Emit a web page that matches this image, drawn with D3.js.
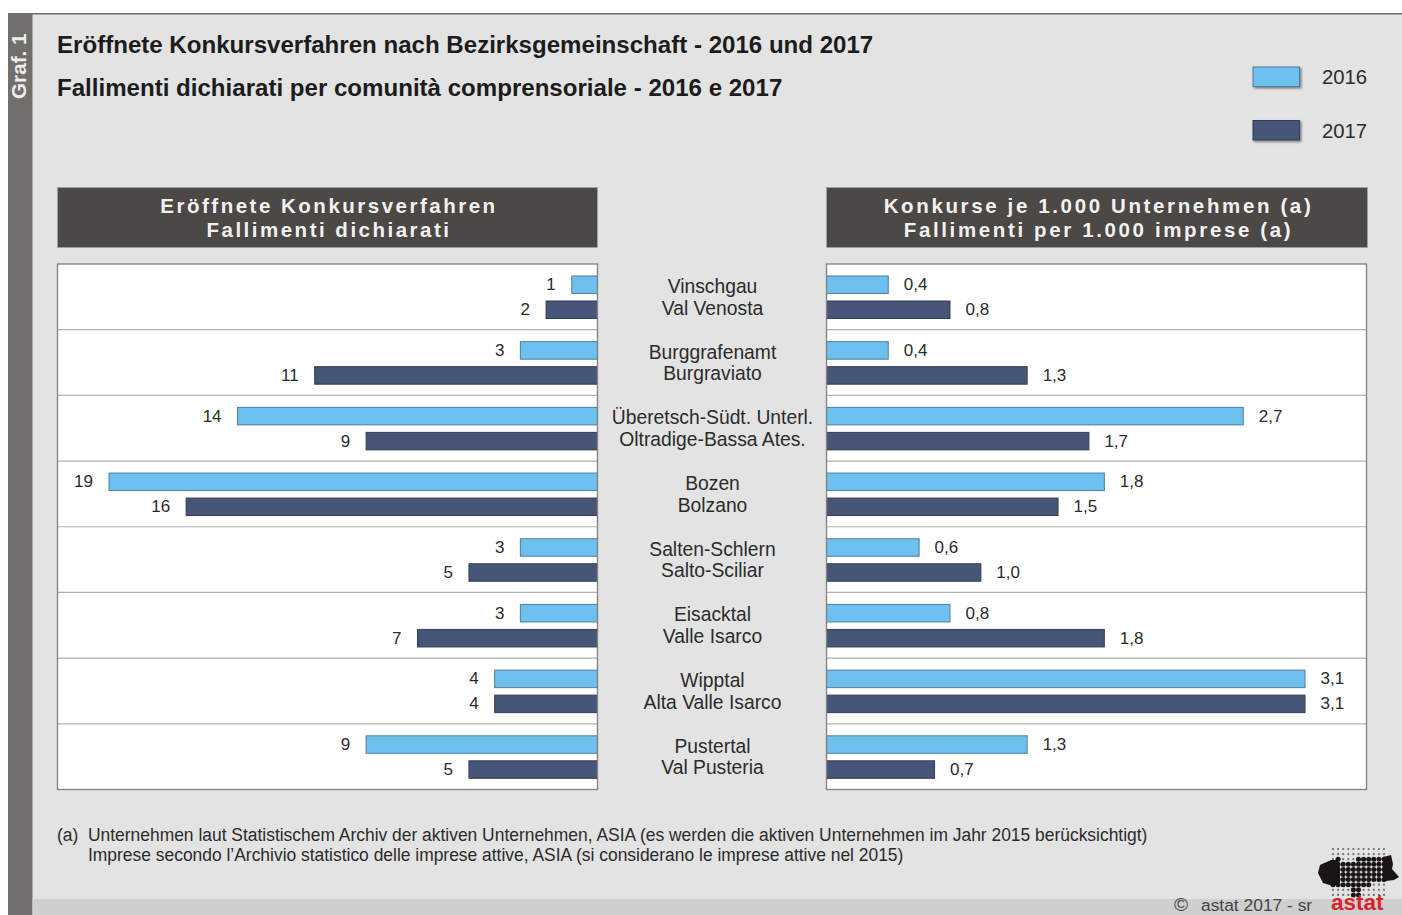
<!DOCTYPE html>
<meta charset="utf-8">
<style>
html, body { margin: 0; padding: 0; background: #fff; }
svg { display: block; }
text { font-family: "Liberation Sans", Arial, sans-serif; fill: #2b2b2b; }
.title { font-size: 24.08px; font-weight: bold; fill: #1c1c1c; }
.head { font-size: 20.5px; font-weight: bold; fill: #f2f2f2; text-anchor: middle; }
.val { font-size: 17px; }
.cat { font-size: 19.3px; text-anchor: middle; }
.note { font-size: 17.43px; }
</style>
<svg width="1402" height="915"></svg>
<script src="https://d3js.org/d3.v7.min.js"></script>
<script>

var catDe = ["Vinschgau", "Burggrafenamt", "Überetsch-Südt. Unterl.", "Bozen", "Salten-Schlern", "Eisacktal", "Wipptal", "Pustertal"];
var catIt = ["Val Venosta", "Burgraviato", "Oltradige-Bassa Ates.", "Bolzano", "Salto-Sciliar", "Valle Isarco", "Alta Valle Isarco", "Val Pusteria"];

var years = ["2016", "2017"];

// Eröffnete Konkursverfahren
var count2016 = [1, 3, 14, 19, 3, 3, 4, 9];
var count2017 = [2, 11, 9, 16, 5, 7, 4, 5];

// Konkurse je 1.000 Unternehmen
var rate2016 = [0.4, 0.4, 2.7, 1.8, 0.6, 0.8, 3.1, 1.3];
var rate2017 = [0.8, 1.3, 1.7, 1.5, 1.0, 1.8, 3.1, 0.7];

var colors = { "2016": "#6ec1ee", "2017": "#475578" };
var barStroke = { "2016": "#4d7f9c", "2017": "#333d58" };

var svg = d3.select("svg");

var defs = svg.append("defs");
var shadow = defs.append("filter").attr("id", "shadow")
  .attr("x", "-10%").attr("y", "-20%").attr("width", "125%").attr("height", "150%");
shadow.append("feDropShadow").attr("dx", 1.5).attr("dy", 1.5).attr("stdDeviation", 1.2)
  .attr("flood-color", "#000").attr("flood-opacity", 0.45);

// background
svg.append("rect").attr("x", 8).attr("y", 14).attr("width", 1394).attr("height", 901).attr("fill", "#e3e3e3");
svg.append("rect").attr("x", 8).attr("y", 13).attr("width", 1394).attr("height", 1.5).attr("fill", "#6b6b6b");
svg.append("rect").attr("x", 8).attr("y", 14).attr("width", 24.5).attr("height", 901).attr("fill", "#706f6d");
svg.append("rect").attr("x", 32.5).attr("y", 899).attr("width", 1369.5).attr("height", 16).attr("fill", "#cfcfcf");

svg.append("text").attr("transform", "translate(26,99) rotate(-90)")
  .style("font-size", "20.7px").style("font-weight", "bold").style("fill", "#eeeeee").text("Graf. 1");

svg.append("text").attr("class", "title").attr("x", 57).attr("y", 53)
  .text("Eröffnete Konkursverfahren nach Bezirksgemeinschaft - 2016 und 2017");
svg.append("text").attr("class", "title").attr("x", 57).attr("y", 96)
  .text("Fallimenti dichiarati per comunità comprensoriale - 2016 e 2017");

// legend
var legend = svg.selectAll(".legend").data(years).enter().append("g").attr("class", "legend")
  .attr("transform", function(d, i) { return "translate(1253," + (67 + i * 53.5) + ")"; });
legend.append("rect").attr("width", 46.5).attr("height", 19.5)
  .attr("fill", function(d) { return colors[d]; })
  .attr("stroke", function(d) { return barStroke[d]; })
  .attr("filter", "url(#shadow)");
legend.append("text").attr("x", 69).attr("y", 17).style("font-size", "20.3px").text(function(d) { return d; });

// panel headers
var headers = [
  { x: 57.5, w: 540, spacing: 2.5, lines: ["Eröffnete Konkursverfahren", "Fallimenti dichiarati"] },
  { x: 826.5, w: 541, spacing: 2.63, lines: ["Konkurse je 1.000 Unternehmen (a)", "Fallimenti per 1.000 imprese (a)"] }
];
headers.forEach(function(h) {
  svg.append("rect").attr("x", h.x).attr("y", 187.5).attr("width", h.w).attr("height", 60)
    .attr("fill", "#4b4846").attr("stroke", "#a3a3a3").attr("stroke-width", 0.8);
  h.lines.forEach(function(t, i) {
    svg.append("text").attr("class", "head").attr("x", h.x + h.w / 2 + 1.5).attr("y", 213 + i * 24)
      .style("letter-spacing", h.spacing + "px").text(t);
  });
});

// scales
var y = d3.scaleBand().domain(d3.range(catDe.length)).range([264, 789.5]);
var yBar = d3.scaleBand().domain(years).range([12, 54.5]).paddingInner(0.3);
var xCount = d3.scaleLinear().domain([0, 19]).range([597.5, 109]);
var xRate = d3.scaleLinear().domain([0, 3.1]).range([826.5, 1305]);

var fmt = function(v) { return d3.format(".1f")(v).replace(".", ","); };

function panel(x0, x1, xScale, data2016, data2017, left, format) {
  var g = svg.append("g");
  g.append("rect").attr("x", x0).attr("y", 264).attr("width", x1 - x0).attr("height", 525.5)
    .attr("fill", "#ffffff");
  g.selectAll(".sep").data(d3.range(1, catDe.length)).enter().append("line")
    .attr("x1", x0).attr("x2", x1)
    .attr("y1", function(d) { return y(d); }).attr("y2", function(d) { return y(d); })
    .attr("stroke", "#b0b0b0").attr("stroke-width", 1.2);

  [data2016, data2017].forEach(function(data, k) {
    var yr = years[k];
    g.selectAll(".bar" + yr).data(data).enter().append("rect")
      .attr("x", function(d) { return left ? xScale(d) : xScale(0); })
      .attr("y", function(d, i) { return y(i) + yBar(yr); })
      .attr("width", function(d) { return Math.abs(xScale(d) - xScale(0)); })
      .attr("height", yBar.bandwidth())
      .attr("fill", colors[yr]).attr("stroke", barStroke[yr]).attr("stroke-width", 1);
    g.selectAll(".val" + yr).data(data).enter().append("text")
      .attr("class", "val")
      .attr("x", function(d) { return xScale(d) + (left ? -16 : 15.5); })
      .attr("y", function(d, i) { return y(i) + yBar(yr) + yBar.bandwidth() / 2 + 5.5; })
      .attr("text-anchor", left ? "end" : "start")
      .text(format);
  });

  // frame goes on top of the bars
  g.append("rect").attr("x", x0).attr("y", 264).attr("width", x1 - x0).attr("height", 525.5)
    .attr("fill", "none").attr("stroke", "#808080").attr("stroke-width", 1.3);
}

panel(57.5, 597.5, xCount, count2016, count2017, true, function(d) { return d; });
panel(826.5, 1366.5, xRate, rate2016, rate2017, false, fmt);

// category labels
var cats = svg.selectAll(".catg").data(catDe).enter().append("g").attr("class", "catg");
cats.append("text").attr("class", "cat").attr("x", 712.5)
  .attr("y", function(d, i) { return y(i) + 29; }).text(function(d) { return d; });
cats.append("text").attr("class", "cat").attr("x", 712.5)
  .attr("y", function(d, i) { return y(i) + 50.5; }).text(function(d, i) { return catIt[i]; });

// footnote
svg.append("text").attr("class", "note").attr("x", 57).attr("y", 841).text("(a)");
svg.append("text").attr("class", "note").attr("x", 88).attr("y", 841)
  .text("Unternehmen laut Statistischem Archiv der aktiven Unternehmen, ASIA (es werden die aktiven Unternehmen im Jahr 2015 berücksichtigt)");
svg.append("text").attr("class", "note").attr("x", 88).attr("y", 861)
  .text("Imprese secondo l’Archivio statistico delle imprese attive, ASIA (si considerano le imprese attive nel 2015)");

// copyright, kept just above the bottom edge
svg.append("text").attr("x", 1174).attr("y", 911).style("font-size", "19px").style("fill", "#444").text("©");
svg.append("text").attr("x", 1201).attr("y", 911).style("font-size", "17.4px").style("fill", "#444").text("astat 2017 - sr");

// logo: dot raster with the province shape on top
var shape = [[1331,862],[1340,858],[1347,862],[1358,858],[1375,857],[1387,855],[1387,881],[1375,884],[1362,889],[1359,897],[1353,897],[1350,889],[1345,886],[1333,886],[1331,880]];
var logo = svg.append("g");
d3.range(1333, 1386, 5.1).forEach(function(px) {
  d3.range(849, 899, 5.1).forEach(function(py) {
    var inside = d3.polygonContains(shape, [px, py]);
    logo.append("circle").attr("cx", px).attr("cy", py).attr("r", inside ? 2.5 : 1.1)
      .attr("fill", inside ? "#1a1513" : "#6e6e6e");
  });
});
logo.append("path").attr("d", "M1331,860 L1338,860 L1340,868 L1340,884 L1333,886 L1323,883 L1318,873 L1320,865 Z").attr("fill", "#1a1513");
logo.append("path").attr("d", "M1383,857 L1391,855 L1393,864 L1392,869 L1399,877 L1394,880 L1386,881 L1383,882 Z").attr("fill", "#1a1513");
svg.append("text").attr("x", 1331).attr("y", 910).style("font-size", "22.5px").style("font-weight", "bold")
  .style("fill", "#d8232a").text("astat");

</script>
